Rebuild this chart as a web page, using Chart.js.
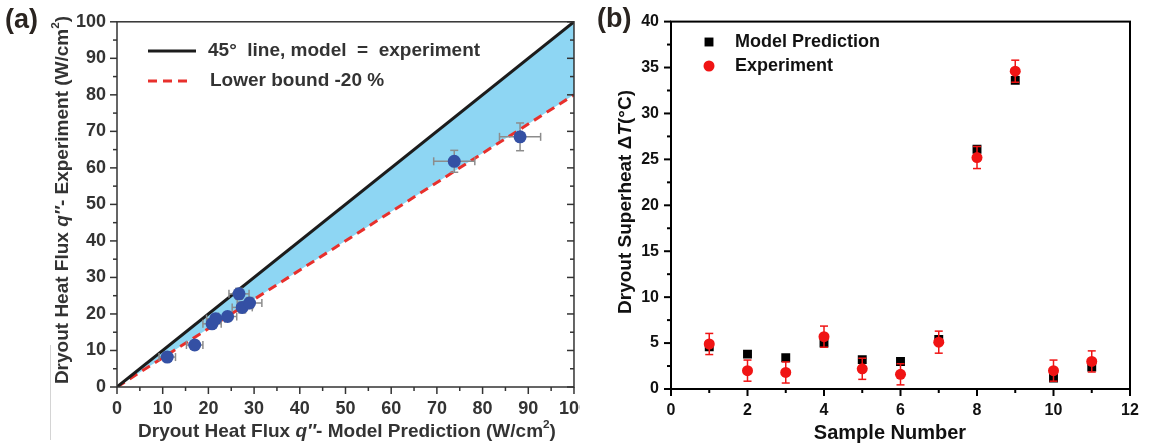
<!DOCTYPE html>
<html lang="en">
<head>
    <meta charset="UTF-8" />
    <title>Dryout heat flux and superheat</title>
    <script src="https://cdn.jsdelivr.net/npm/chart.js"></script>
    <style>
        body { margin: 0; background: #fff; width: 1157px; height: 447px; overflow: hidden; position: relative; }
        #wa { position: absolute; left: 0; top: 0; width: 580px; height: 447px; overflow: hidden; }
        #wb { position: absolute; left: 580px; top: 0; width: 577px; height: 447px; }
        .tag { position: absolute; font: bold 27px 'Liberation Sans', Arial, sans-serif; color: #2a2420; }
        .edge { position: absolute; width: 1px; background: #d4d4d4; }
    </style>
</head>
<body>
    <div id="wa"><canvas id="chartA" width="600" height="447"></canvas></div>
    <div id="wb"><canvas id="chartB" width="577" height="447"></canvas></div>
    <div class="tag" style="left:5px;top:4px">(a)</div>
    <div class="tag" style="left:597px;top:3px">(b)</div>
    <div class="edge" style="left:50px;top:345px;height:95px"></div>

    <script>
        // (a) dryout heat flux, W/cm2
        const qModel    = [11.0, 17.0, 20.8, 21.6, 24.2, 26.7, 27.4, 29.0, 73.8, 88.2];
        const qExp      = [8.2, 11.5, 17.3, 18.7, 19.3, 25.5, 21.8, 23.0, 61.8, 68.5];
        const qModelErr = [1.8, 1.8, 2.0, 2.0, 2.0, 2.2, 2.2, 2.7, 4.5, 4.5];
        const qExpErr   = [1.0, 1.2, 1.2, 1.2, 1.2, 1.5, 1.5, 1.5, 3.0, 3.8];
        const diagX  = [0, 100];
        const equalY = [0, 100];
        const lowerY = [0, 80];

        // (b) dryout superheat, °C
        const sampleNo = [1, 2, 3, 4, 5, 6, 7, 8, 9, 10, 11];
        const modelDT  = [4.6, 3.8, 3.4, 5.0, 3.2, 3.0, 5.4, 26.1, 33.6, 1.2, 2.4];
        const expDT    = [4.9, 2.0, 1.8, 5.7, 2.2, 1.6, 5.1, 25.2, 34.6, 2.0, 3.0];
        const expDTErr = [1.15, 1.15, 1.15, 1.15, 1.15, 1.15, 1.2, 1.2, 1.2, 1.15, 1.15];

        const FAMILY = "'Liberation Sans', Arial, sans-serif";
        Chart.defaults.font.family = FAMILY;

        function fontOf(p, size) {
            const s = p.sup ? size * 0.62 : size;
            return (p.it ? 'italic ' : '') + 'bold ' + s + 'px ' + FAMILY;
        }

        // text made of parts: {t, it, sup}
        function richText(ctx, parts, x, y, size, color, rot, align) {
            ctx.save();
            ctx.translate(x, y);
            if (rot) ctx.rotate(rot);
            let w = 0;
            const widths = parts.map(p => { ctx.font = fontOf(p, size); const m = ctx.measureText(p.t).width; w += m; return m; });
            let cx = align === 'left' ? 0 : -w / 2;
            ctx.fillStyle = color;
            ctx.textBaseline = 'middle';
            ctx.textAlign = 'left';
            parts.forEach((p, i) => {
                ctx.font = fontOf(p, size);
                ctx.fillText(p.t, cx, p.sup ? -size * 0.38 : 0);
                cx += widths[i];
            });
            ctx.restore();
        }

        // box round the plot, with major and minor tick marks
        const frame = {
            id: 'frame',
            afterDraw(chart, args, o) {
                const { ctx, chartArea: a } = chart;
                ctx.save();
                ctx.strokeStyle = o.color;
                ctx.lineWidth = o.width;
                ctx.strokeRect(a.left, a.top, a.right - a.left, a.bottom - a.top);
                const mark = (side, p, len) => {
                    ctx.beginPath();
                    if (side === 'left') { ctx.moveTo(a.left, p); ctx.lineTo(a.left - len, p); }
                    if (side === 'right') { ctx.moveTo(a.right, p); ctx.lineTo(a.right - len, p); }
                    if (side === 'bottom') { ctx.moveTo(p, a.bottom); ctx.lineTo(p, a.bottom + len); }
                    ctx.stroke();
                };
                o.sides.forEach(side => {
                    const scale = side === 'bottom' ? chart.scales.x : chart.scales.y;
                    const vals = scale.ticks.map(t => t.value);
                    vals.forEach((v, i) => {
                        mark(side, scale.getPixelForValue(v), o.major);
                        if (i < vals.length - 1) mark(side, scale.getPixelForValue((v + vals[i + 1]) / 2), o.minor);
                    });
                });
                ctx.restore();
            }
        };

        const errorBars = {
            id: 'errorBars',
            beforeDatasetDraw(chart, args, o) {
                if (args.index !== o.dataset) return;
                const ctx = chart.ctx, xs = chart.scales.x, ys = chart.scales.y;
                const seg = (x1, y1, x2, y2) => { ctx.beginPath(); ctx.moveTo(x1, y1); ctx.lineTo(x2, y2); ctx.stroke(); };
                ctx.save();
                ctx.strokeStyle = o.color;
                ctx.lineWidth = o.width;
                chart.data.datasets[o.dataset].data.forEach((p, i) => {
                    const px = xs.getPixelForValue(p.x), py = ys.getPixelForValue(p.y);
                    if (o.yErr) {
                        const t = ys.getPixelForValue(p.y + o.yErr[i]), b = ys.getPixelForValue(p.y - o.yErr[i]);
                        seg(px, t, px, b); seg(px - o.cap, t, px + o.cap, t); seg(px - o.cap, b, px + o.cap, b);
                    }
                    if (o.xErr) {
                        const l = xs.getPixelForValue(p.x - o.xErr[i]), r = xs.getPixelForValue(p.x + o.xErr[i]);
                        seg(l, py, r, py); seg(l, py - o.cap, l, py + o.cap); seg(r, py - o.cap, r, py + o.cap);
                    }
                });
                ctx.restore();
            }
        };

        // axis titles and legend, drawn on the canvas
        const labels = {
            id: 'labels',
            afterDraw(chart, args, o) {
                const ctx = chart.ctx;
                o.titles.forEach(t => richText(ctx, t.parts, t.x, t.y, t.size, o.color, t.rot, 'center'));
                o.legend.forEach(item => {
                    const ds = chart.data.datasets[item.dataset];
                    ctx.save();
                    if (item.kind === 'line') {
                        ctx.strokeStyle = ds.borderColor;
                        ctx.lineWidth = ds.borderWidth;
                        ctx.setLineDash(ds.borderDash || []);
                        ctx.beginPath(); ctx.moveTo(item.x, item.y); ctx.lineTo(item.x + item.len, item.y); ctx.stroke();
                    } else {
                        ctx.fillStyle = ds.backgroundColor;
                        ctx.beginPath();
                        if (ds.pointStyle === 'rect') {
                            const h = ds.pointRadius * Math.SQRT1_2;
                            ctx.rect(item.x - h, item.y - h, 2 * h, 2 * h);
                        } else {
                            ctx.arc(item.x, item.y, ds.pointRadius, 0, Math.PI * 2);
                        }
                        ctx.fill();
                    }
                    ctx.restore();
                    richText(ctx, [{ t: ds.label }], item.tx, item.y, o.legendSize, o.color, 0, 'left');
                });
            }
        };

        const fixSize = (w, h) => scale => { if (w) scale.width = w; if (h) scale.height = h; };

        // ---------- (a) ----------
        new Chart(document.getElementById('chartA'), {
            type: 'scatter',
            data: {
                datasets: [
                    {
                        label: 'Samples',
                        data: qModel.map((x, i) => ({ x: x, y: qExp[i] })),
                        pointRadius: 6.5,
                        pointBackgroundColor: '#3450a4',
                        pointBorderWidth: 0
                    },
                    {
                        label: '45\u00b0  line, model  =  experiment',
                        type: 'line',
                        data: diagX.map((x, i) => ({ x: x, y: equalY[i] })),
                        borderColor: '#1c1c1c',
                        borderWidth: 3,
                        pointRadius: 0,
                        fill: 2,
                        backgroundColor: 'rgb(142,214,243)'
                    },
                    {
                        label: 'Lower bound -20 %',
                        type: 'line',
                        data: diagX.map((x, i) => ({ x: x, y: lowerY[i] })),
                        borderColor: '#e8302c',
                        borderWidth: 3,
                        borderDash: [9, 6],
                        pointRadius: 0,
                        fill: false
                    }
                ]
            },
            options: {
                responsive: false,
                animation: false,
                layout: { padding: { left: 0, top: 14, right: 22, bottom: 0 } },
                scales: {
                    x: {
                        min: 0, max: 100,
                        afterFit: fixSize(0, 60),
                        grid: { display: false, drawTicks: false },
                        border: { display: false },
                        ticks: { stepSize: 10, padding: 11, color: '#333', font: { size: 18, weight: 'bold' } }
                    },
                    y: {
                        min: 0, max: 100,
                        afterFit: fixSize(117, 0),
                        grid: { display: false, drawTicks: false },
                        border: { display: false },
                        ticks: { stepSize: 10, padding: 11, color: '#333', font: { size: 18, weight: 'bold' } }
                    }
                },
                plugins: {
                    legend: { display: false },
                    tooltip: { enabled: false },
                    filler: { drawTime: 'beforeDatasetsDraw' },
                    frame: { color: '#333', width: 1.5, major: 7, minor: 4, sides: ['left', 'bottom', 'right'] },
                    errorBars: { dataset: 0, xErr: qModelErr, yErr: qExpErr, color: '#8c8c8c', width: 1.5, cap: 4 },
                    labels: {
                        color: '#333',
                        legendSize: 19,
                        titles: [
                            {
                                x: 63, y: 200, size: 19, rot: -Math.PI / 2,
                                parts: [{ t: 'Dryout Heat Flux ' }, { t: 'q\u2033', it: true }, { t: '- Experiment (W/cm' }, { t: '2', sup: true }, { t: ')' }]
                            },
                            {
                                x: 347, y: 432, size: 19,
                                parts: [{ t: 'Dryout Heat Flux ' }, { t: 'q\u2033', it: true }, { t: '- Model Prediction (W/cm' }, { t: '2', sup: true }, { t: ')' }]
                            }
                        ],
                        legend: [
                            { dataset: 1, kind: 'line', x: 148, y: 51, len: 48, tx: 208 },
                            { dataset: 2, kind: 'line', x: 148, y: 81, len: 45, tx: 210 }
                        ]
                    }
                }
            },
            plugins: [frame, errorBars, labels]
        });

        // ---------- (b) ----------
        new Chart(document.getElementById('chartB'), {
            type: 'scatter',
            data: {
                datasets: [
                    {
                        label: 'Model Prediction',
                        order: 1,
                        data: sampleNo.map((x, i) => ({ x: x, y: modelDT[i] })),
                        pointStyle: 'rect',
                        pointRadius: 6.3,
                        backgroundColor: '#000',
                        pointBackgroundColor: '#000',
                        pointBorderWidth: 0
                    },
                    {
                        label: 'Experiment',
                        order: 0,
                        data: sampleNo.map((x, i) => ({ x: x, y: expDT[i] })),
                        pointStyle: 'circle',
                        pointRadius: 5.5,
                        backgroundColor: '#f01414',
                        pointBackgroundColor: '#f01414',
                        pointBorderWidth: 0
                    }
                ]
            },
            options: {
                responsive: false,
                animation: false,
                layout: { padding: { left: 0, top: 15, right: 27, bottom: 0 } },
                scales: {
                    x: {
                        min: 0, max: 12,
                        afterFit: fixSize(0, 58),
                        grid: { display: false, drawTicks: false },
                        border: { display: false },
                        ticks: { stepSize: 2, padding: 12, color: '#111', font: { size: 16, weight: 'bold' } }
                    },
                    y: {
                        min: 0, max: 40,
                        afterFit: fixSize(91, 0),
                        grid: { display: false, drawTicks: false },
                        border: { display: false },
                        ticks: { stepSize: 5, padding: 12, color: '#111', font: { size: 16, weight: 'bold' } }
                    }
                },
                plugins: {
                    legend: { display: false },
                    tooltip: { enabled: false },
                    frame: { color: '#000', width: 2, major: 7, minor: 4, sides: ['left', 'bottom'] },
                    errorBars: { dataset: 1, yErr: expDTErr, color: '#f01414', width: 1.5, cap: 4 },
                    labels: {
                        color: '#111',
                        legendSize: 18,
                        titles: [
                            {
                                x: 46, y: 202, size: 19, rot: -Math.PI / 2,
                                parts: [{ t: 'Dryout Superheat \u0394' }, { t: 'T', it: true }, { t: '(\u00b0C)' }]
                            },
                            { x: 310, y: 433, size: 20, parts: [{ t: 'Sample Number' }] }
                        ],
                        legend: [
                            { dataset: 0, kind: 'point', x: 129, y: 42, tx: 155 },
                            { dataset: 1, kind: 'point', x: 129, y: 66, tx: 155 }
                        ]
                    }
                }
            },
            plugins: [frame, errorBars, labels]
        });
    </script>
</body>
</html>
